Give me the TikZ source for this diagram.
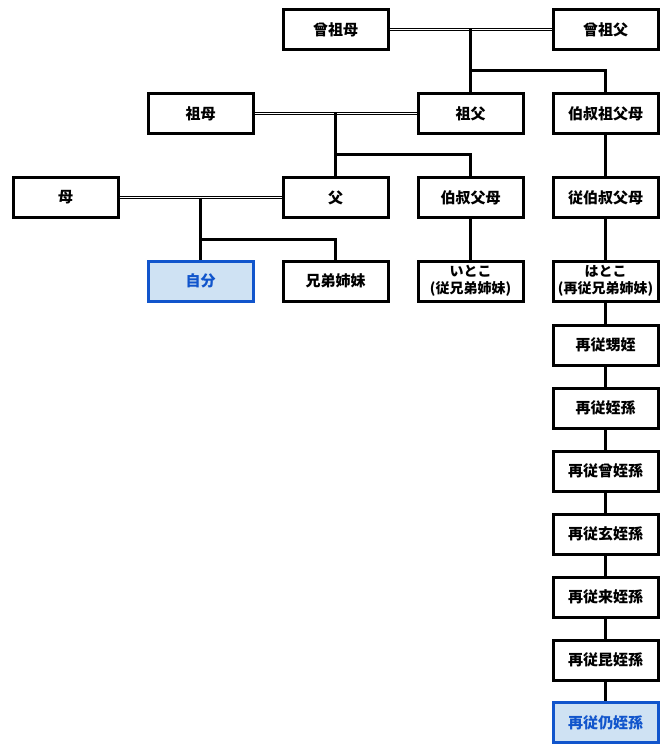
\documentclass[tikz,border=0pt]{standalone}
\usepackage{fontspec}
\setmainfont{Noto Sans CJK JP}
\usepackage{xcolor}
\usepackage{tikz}
\usetikzlibrary{positioning}

\definecolor{selfblue}{HTML}{1155CC}
\definecolor{selffill}{HTML}{CFE2F3}

\begin{document}
\begin{tikzpicture}[x=1pt, y=-1pt,
    person/.style={rectangle, draw, line width=3pt, minimum width=105pt, minimum height=40pt, inner sep=0pt, align=center, font=\bfseries\fontsize{15}{17}\selectfont},
    self/.style={person, draw=selfblue, fill=selffill, text=selfblue},
    small/.style={font=\bfseries\fontsize{14}{17}\selectfont},
    kin/.style={line width=3pt},
    couple/.style={double, line width=1pt, double distance=1.3pt}]
            \useasboundingbox (0,0) rectangle (670,754);

            % Great-grandparents
            \node[person] (ggm) at (335.5,29.5) {曾祖母};
            \node[person] (ggf) at (605.5,29.5) {曾祖父};

            % Grandparents and great-uncles
            \node[person] (gm) at (200.5,113.5) {祖母};
            \node[person] (gf) at (470.5,113.5) {祖父};
            \node[person] (gu) at (605.5,113.5) {伯叔祖父母};

            % Parents and uncles
            \node[person] (mo) at (65.5,197.5) {母};
            \node[person] (fa) at (335.5,197.5) {父};
            \node[person] (un) at (470.5,197.5) {伯叔父母};
            \node[person] (gun) at (605.5,197.5) {従伯叔父母};

            % Own generation
            \node[self] (me) at (200.5,281) {自分};
            \node[person] (sib) at (335.5,281) {兄弟姉妹};
            \node[person, small] (cou) at (470.5,281) {いとこ\\(従兄弟姉妹)};
            \node[person, small] (cou2) at (605.5,281) {はとこ\\(再従兄弟姉妹)};

            % Descendants of the second cousin
            \node[person] (n1) at (605.5,345) {再従甥姪};
            \node[person] (n2) at (605.5,408) {再従姪孫};
            \node[person] (n3) at (605.5,471) {再従曾姪孫};
            \node[person] (n4) at (605.5,534) {再従玄姪孫};
            \node[person] (n5) at (605.5,597) {再従来姪孫};
            \node[person] (n6) at (605.5,660) {再従昆姪孫};
            \node[self] (n7) at (605.5,722.5) {再従仍姪孫};

            % Marriages
            \draw[couple] (ggm) -- (ggf);
            \draw[couple] (gm) -- (gf);
            \draw[couple] (mo) -- (fa);

            % Children of each couple
            \coordinate (ggc) at (470.5,29.5);
            \coordinate (ggb) at (470.5,71);
            \draw[kin] (ggc) -- (gf);
            \draw[kin] (ggb) -| (gu);

            \coordinate (gc) at (335.5,113.5);
            \coordinate (gb) at (335.5,155);
            \draw[kin] (gc) -- (fa);
            \draw[kin] (gb) -| (un);

            \coordinate (pc) at (200.5,197.5);
            \coordinate (pb) at (200.5,239);
            \draw[kin] (pc) -- (me);
            \draw[kin] (pb) -| (sib);

            % Lines of descent
            \draw[kin] (un) -- (cou);
            \draw[kin] (gu) -- (gun);
            \draw[kin] (gun) -- (cou2);
            \draw[kin] (cou2) -- (n1);
            \draw[kin] (n1) -- (n2);
            \draw[kin] (n2) -- (n3);
            \draw[kin] (n3) -- (n4);
            \draw[kin] (n4) -- (n5);
            \draw[kin] (n5) -- (n6);
            \draw[kin] (n6) -- (n7);
        \end{tikzpicture}
\end{document}
